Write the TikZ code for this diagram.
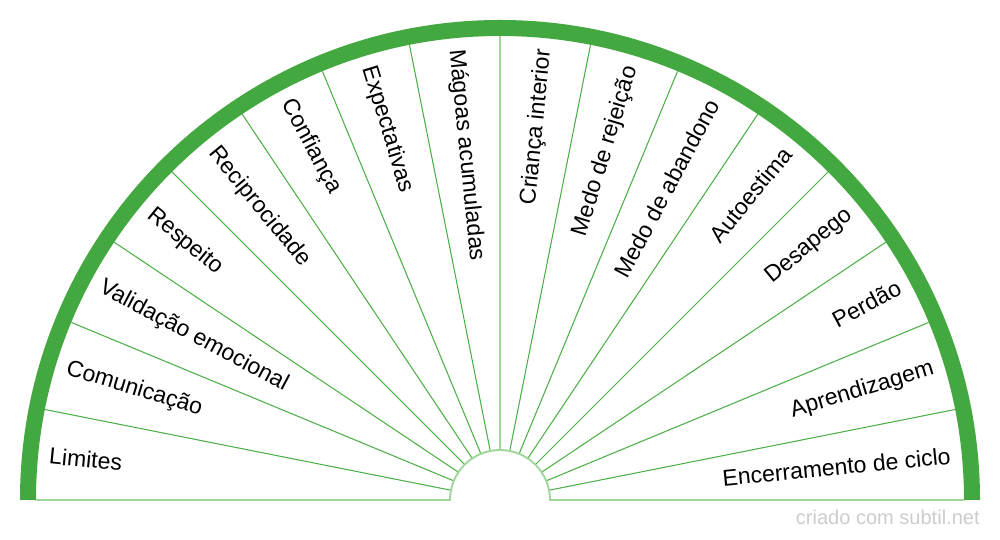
\documentclass[tikz,border=0pt]{standalone}
\usepackage{fontspec}
\setmainfont{Liberation Sans}
\usetikzlibrary{positioning}
\definecolor{rimgreen}{HTML}{43A83F}
\definecolor{spokegreen}{HTML}{4CAF48}
\definecolor{palegreen}{HTML}{9FD79B}
\definecolor{markgray}{HTML}{CCCCCC}
\tikzset{
    rim/.style={
        draw=rimgreen,
        line width=0.32cm
    },
    spoke/.style={
        draw=spokegreen,
        line width=0.6pt
    },
    pale line/.style={
        draw=palegreen,
        line width=1.1pt
    },
    sector label/.style={
        inner sep=0pt,
        font=\fontsize{13.1}{15}\selectfont
    },
    watermark/.style={
        text=markgray,
        inner sep=0pt,
        font=\fontsize{11.4}{13}\selectfont
    }
}

\begin{document}
\begin{tikzpicture}[x=0.02cm,y=0.02cm]
            \useasboundingbox (-500,-40) rectangle (500,500);
            \coordinate (O) at (0,0);
            % spokes
            \foreach \k in {1,...,7,9,10,...,15}
              \draw[spoke] ({\k*11.25}:50) -- ({\k*11.25}:464);
            \draw[pale line] (90:50) -- (90:464);
            % base and hub
            \draw[pale line] (-464,0) -- (-50,0) arc[start angle=180,end angle=0,radius=50] -- (464,0);
            \draw[rim] (-472,0) arc[start angle=180,end angle=0,radius=472];
            % left half
            \foreach \t [count=\i from 0] in {Limites,Comunicação,Validação emocional,Respeito,Reciprocidade,Confiança,Expectativas,Mágoas acumuladas}
              \node[sector label,anchor=west,rotate={-(\i+0.5)*11.25}] (left-\i) at ({180-(\i+0.5)*11.25}:453) {\t};
            % right half
            \foreach \t [count=\i from 0] in {Criança interior,Medo de rejeição,Medo de abandono,Autoestima,Desapego,Perdão,Aprendizagem,Encerramento de ciclo}
              \node[sector label,anchor=east,rotate={90-(\i+0.5)*11.25}] (right-\i) at ({90-(\i+0.5)*11.25}:453) {\t};
            \node[watermark,anchor=base east] (mark) at (480,-25) {criado com subtil.net};
          \end{tikzpicture}
\end{document}
